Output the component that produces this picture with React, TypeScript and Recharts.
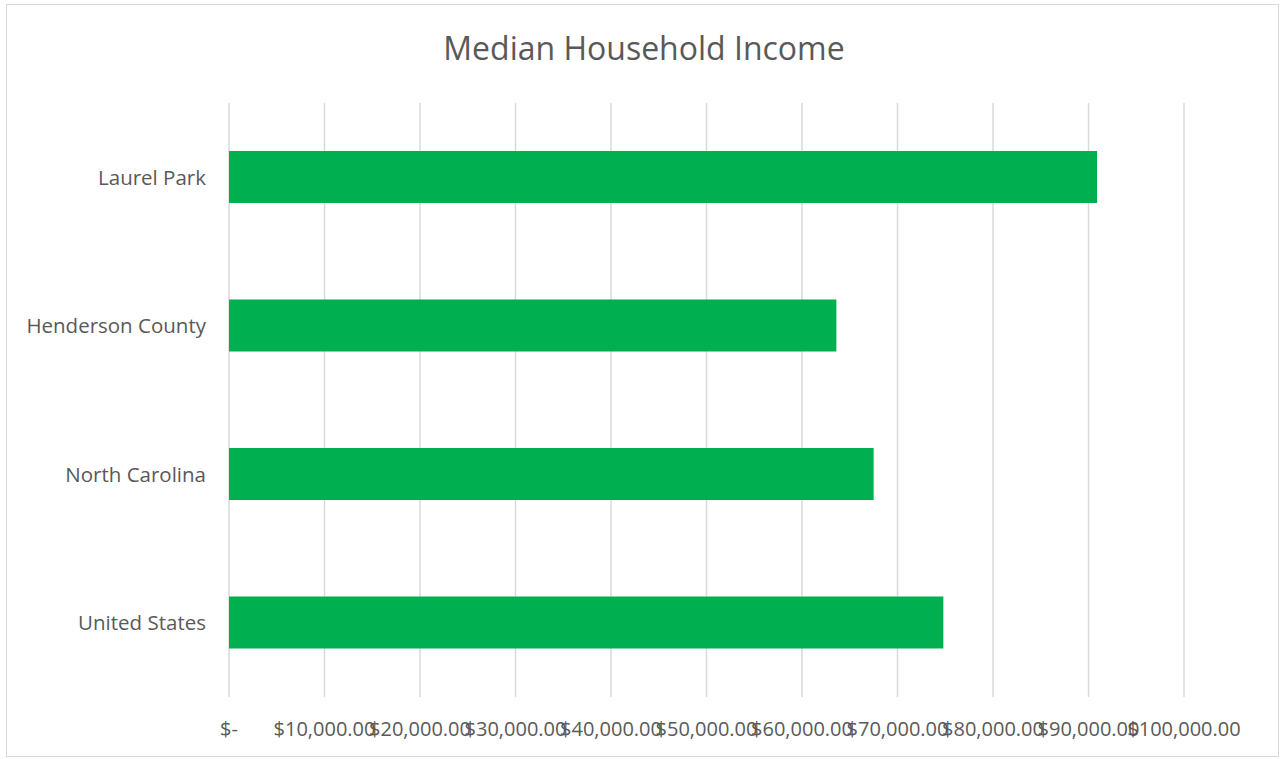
import { BarChart, Bar, XAxis, YAxis, CartesianGrid } from 'recharts';

const regions = ['Laurel Park', 'Henderson County', 'North Carolina', 'United States'];
const incomes = [90900, 63600, 67500, 74800];
const xTicks = [0, 10000, 20000, 30000, 40000, 50000, 60000, 70000, 80000, 90000, 100000];

const data = regions.map((name, i) => ({ name, income: incomes[i] }));

const money = (v: number) =>
  v === 0
    ? '$-'
    : '$' + v.toLocaleString('en-US', { minimumFractionDigits: 2, maximumFractionDigits: 2 });

const font = '"Open Sans", sans-serif';

export default function App() {
  return (
    <div style={{ position: 'absolute', left: 0, top: 0, width: 1280, height: 759, background: '#fff' }}>
      <div
        style={{
          position: 'absolute',
          left: 6,
          top: 4,
          width: 1271,
          height: 751,
          border: '1px solid #d9d9d9',
        }}
      />
      <div
        style={{
          position: 'absolute',
          left: 0,
          top: 26,
          width: 1288,
          textAlign: 'center',
          fontFamily: font,
          fontSize: 32,
          color: '#595959',
          lineHeight: '44px',
        }}
      >
        Median Household Income
      </div>
      <div style={{ position: 'absolute', left: 0, top: 0 }}>
        <BarChart
          width={1280}
          height={759}
          data={data}
          layout="vertical"
          margin={{ top: 103, right: 96, bottom: 32, left: 0 }}
          barSize={52}
        >
          <CartesianGrid horizontal={false} stroke="#d9d9d9" strokeWidth={1.5} />
          <XAxis
            type="number"
            domain={[0, 100000]}
            ticks={xTicks}
            interval={0}
            tickFormatter={money}
            axisLine={false}
            tickLine={false}
            tickMargin={19}
            tick={{ fill: '#595959', fontSize: 20, fontFamily: font }}
          />
          <YAxis
            type="category"
            dataKey="name"
            width={229}
            axisLine={false}
            tickLine={false}
            tickMargin={17}
            tick={{ fill: '#595959', fontSize: 20.5, fontFamily: font }}
          />
          <Bar dataKey="income" fill="#00b050" isAnimationActive={false} />
        </BarChart>
      </div>
    </div>
  );
}
